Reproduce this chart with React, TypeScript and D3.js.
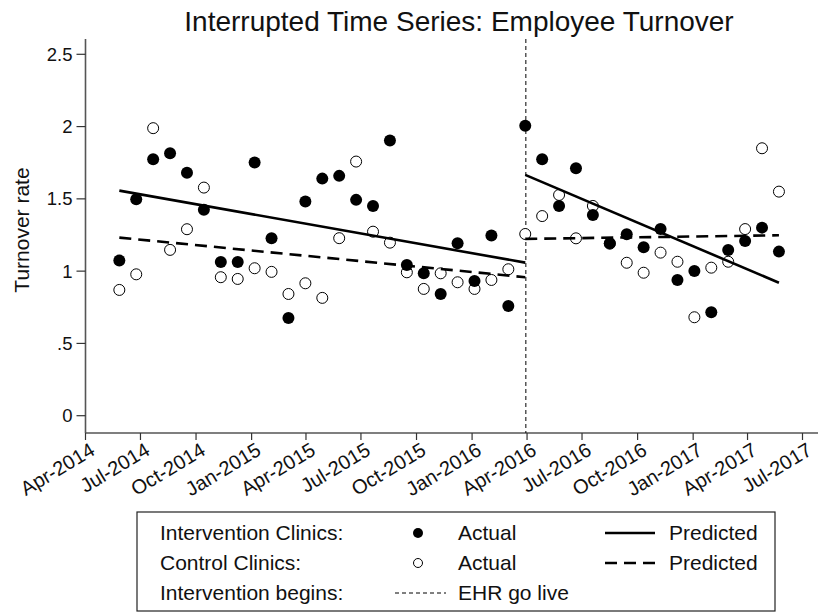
import React from "react";
import * as d3 from "d3";

const periodDates = [
  "2014-05-27", "2014-06-24", "2014-07-22", "2014-08-19", "2014-09-16", "2014-10-14",
  "2014-11-11", "2014-12-09", "2015-01-06", "2015-02-03", "2015-03-03", "2015-03-31",
  "2015-04-28", "2015-05-26", "2015-06-23", "2015-07-21", "2015-08-18", "2015-09-15",
  "2015-10-13", "2015-11-10", "2015-12-08", "2016-01-05", "2016-02-02", "2016-03-01",
  "2016-03-29", "2016-04-26", "2016-05-24", "2016-06-21", "2016-07-19", "2016-08-16",
  "2016-09-13", "2016-10-11", "2016-11-08", "2016-12-06", "2017-01-03", "2017-01-31",
  "2017-02-28", "2017-03-28", "2017-04-25", "2017-05-23",
];

const interventionActual = [
  1.073, 1.497, 1.774, 1.816, 1.68, 1.424, 1.064, 1.064, 1.751, 1.228,
  0.676, 1.481, 1.64, 1.659, 1.493, 1.451, 1.903, 1.043, 0.985, 0.842,
  1.193, 0.932, 1.246, 0.759, 2.005, 1.774, 1.451, 1.711, 1.388, 1.193,
  1.255, 1.165, 1.291, 0.939, 1.001, 0.715, 1.146, 1.208, 1.301, 1.135,
];

const controlActual = [
  0.87, 0.978, 1.989, 1.147, 1.29, 1.578, 0.958, 0.946, 1.02, 0.995,
  0.842, 0.916, 0.815, 1.228, 1.758, 1.273, 1.197, 0.992, 0.877, 0.985,
  0.923, 0.877, 0.939, 1.013, 1.257, 1.381, 1.527, 1.227, 1.451, 1.19,
  1.058, 0.989, 1.128, 1.065, 0.681, 1.024, 1.065, 1.291, 1.85, 1.55,
];

// predicted segments: [start date, end date] and [start value, end value]
const preDates = ["2014-05-27", "2016-03-29"];
const postDates = ["2016-03-29", "2017-05-23"];
const interventionPredPre = [1.557, 1.059];
const interventionPredPost = [1.666, 0.92];
const controlPredPre = [1.232, 0.958];
const controlPredPost = [1.223, 1.248];

const goLiveDate = "2016-03-30";

const xTickDates = [
  "2014-04-01", "2014-07-01", "2014-10-01", "2015-01-01", "2015-04-01", "2015-07-01",
  "2015-10-01", "2016-01-01", "2016-04-01", "2016-07-01", "2016-10-01", "2017-01-01",
  "2017-04-01", "2017-07-01",
];
const yTicks = [0, 0.5, 1, 1.5, 2, 2.5];
const yTickLabels = ["0", ".5", "1", "1.5", "2", "2.5"];

const FONT = "'Liberation Sans', Arial, sans-serif";

export default function App() {
  const parse = d3.utcParse("%Y-%m-%d");
  const fmt = d3.utcFormat("%b-%Y");
  const x = d3
    .scaleUtc()
    .domain([parse("2014-04-01")!, parse("2017-07-01")!])
    .range([85.5, 802.5]);
  const y = d3.scaleLinear().domain([0, 2.5]).range([415.7, 54.3]);

  const axisLeft = 85.5;
  const axisBottom = 433;
  const plotTop = 39;
  const plotRight = 818;

  const pts = periodDates.map((d, i) => ({
    x: x(parse(d)!),
    yi: y(interventionActual[i]),
    yc: y(controlActual[i]),
  }));

  const line = d3
    .line<[string, number]>()
    .x((d) => x(parse(d[0])!))
    .y((d) => y(d[1]));
  const seg = (dates: string[], vals: number[]) =>
    line(dates.map((d, i) => [d, vals[i]] as [string, number])) || "";

  const goX = x(parse(goLiveDate)!);

  return (
    <svg
      width={820}
      height={613}
      style={{ position: "absolute", left: 0, top: 0, background: "#fff" }}
      fontFamily={FONT}
    >
      <rect width={820} height={613} fill="#fff" />
      <text x={459} y={31} textAnchor="middle" fontSize={28} fill="#111">
        Interrupted Time Series: Employee Turnover
      </text>

      {/* y axis */}
      <line x1={axisLeft} x2={axisLeft} y1={plotTop} y2={axisBottom} stroke="#555" strokeWidth={1.6} />
      {yTicks.map((t, i) => (
        <g key={t}>
          <line x1={axisLeft - 9} x2={axisLeft} y1={y(t)} y2={y(t)} stroke="#333" strokeWidth={1.2} />
          <text x={axisLeft - 13} y={y(t)} dy="0.35em" textAnchor="end" fontSize={18.5} fill="#111">
            {yTickLabels[i]}
          </text>
        </g>
      ))}
      <text
        transform={`translate(29,230) rotate(-90)`}
        textAnchor="middle"
        fontSize={21}
        fill="#111"
      >
        Turnover rate
      </text>

      {/* x axis */}
      <line x1={axisLeft} x2={plotRight} y1={axisBottom} y2={axisBottom} stroke="#555" strokeWidth={1.6} />
      {xTickDates.map((d) => {
        const xx = x(parse(d)!);
        return (
          <g key={d}>
            <line x1={xx} x2={xx} y1={axisBottom} y2={axisBottom + 7} stroke="#333" strokeWidth={1.2} />
            <text
              transform={`translate(${xx + 3},${axisBottom + 8}) rotate(-31)`}
              textAnchor="end"
              dy="0.75em"
              fontSize={20}
              fill="#111"
            >
              {fmt(parse(d)!)}
            </text>
          </g>
        );
      })}

      {/* go-live line */}
      <line x1={goX} x2={goX} y1={plotTop} y2={axisBottom} stroke="#000" strokeWidth={1} strokeDasharray="4,3" />

      {/* points */}
      {pts.map((p, i) => (
        <circle key={"c" + i} cx={p.x} cy={p.yc} r={5.5} fill="#fff" stroke="#000" strokeWidth={1} />
      ))}
      {pts.map((p, i) => (
        <circle key={"i" + i} cx={p.x} cy={p.yi} r={6} fill="#000" />
      ))}

      {/* predicted lines */}
      <path d={seg(preDates, interventionPredPre)} fill="none" stroke="#000" strokeWidth={2.6} />
      <path d={seg(postDates, interventionPredPost)} fill="none" stroke="#000" strokeWidth={2.6} />
      <path d={seg(preDates, controlPredPre)} fill="none" stroke="#000" strokeWidth={2.6} strokeDasharray="12,7" />
      <path d={seg(postDates, controlPredPost)} fill="none" stroke="#000" strokeWidth={2.6} strokeDasharray="12,7" />

      {/* legend */}
      <rect x={137} y={512} width={638} height={99} fill="#fff" stroke="#222" strokeWidth={1.2} />
      <g fontSize={21} fill="#111">
        <text x={160} y={540}>Intervention Clinics:</text>
        <text x={160} y={570}>Control Clinics:</text>
        <text x={160} y={600}>Intervention begins:</text>
        <text x={458} y={540}>Actual</text>
        <text x={458} y={570}>Actual</text>
        <text x={458} y={600}>EHR go live</text>
        <text x={669} y={540}>Predicted</text>
        <text x={669} y={570}>Predicted</text>
      </g>
      <circle cx={418} cy={533} r={5} fill="#000" />
      <circle cx={418} cy={563} r={4.5} fill="#fff" stroke="#000" strokeWidth={1} />
      <line x1={395} x2={446} y1={593} y2={593} stroke="#000" strokeWidth={1} strokeDasharray="4,3" />
      <line x1={605} x2={655} y1={533} y2={533} stroke="#000" strokeWidth={2.6} />
      <line x1={605} x2={655} y1={563} y2={563} stroke="#000" strokeWidth={2.6} strokeDasharray="12,7" />
    </svg>
  );
}
